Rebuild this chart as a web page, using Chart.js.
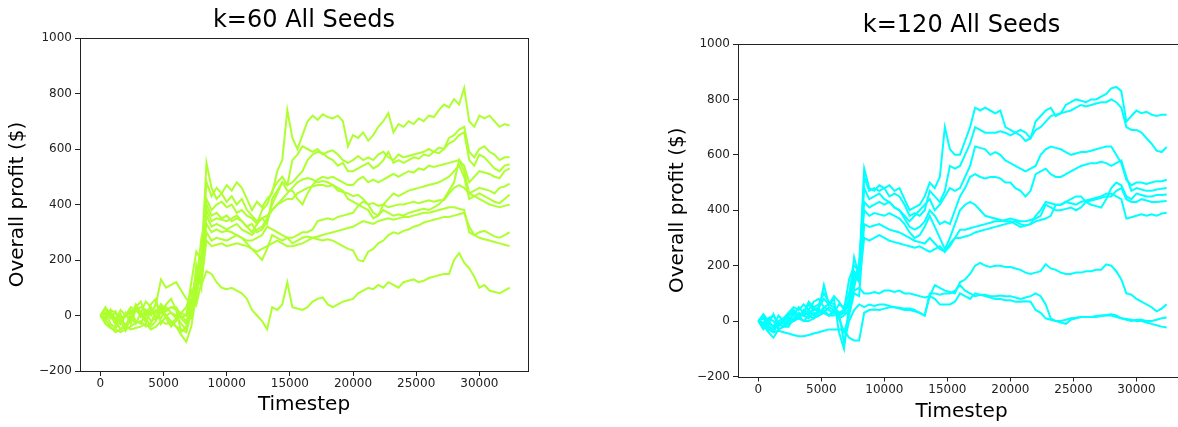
<!DOCTYPE html>
<html>
<head>
<meta charset="utf-8">
<script src="https://cdn.jsdelivr.net/npm/chart.js"></script>
<style>
  body { margin: 0; background: #fff; overflow: hidden; width: 1178px; height: 427px; }
  .wrap { position: absolute; top: 0; }
</style>
</head>
<body>
<div class="wrap" style="left:0px"><canvas id="k60" width="560" height="427"></canvas></div>
<div class="wrap" style="left:650px"><canvas id="k120" width="545" height="427"></canvas></div>
<script>
var FONT = "'DejaVu Sans', sans-serif";

// one sample every 400 timesteps, 0 .. 32400
var timesteps = [];
for (var t = 0; t <= 32400; t += 400) timesteps.push(t);

var xTicks = [0, 5000, 10000, 15000, 20000, 25000, 30000];

// k=60, one array per seed
var k60_a = [0, 25, -10, 15, -25, 10, -30, 20, 0, -20,
    25, 10, 40, 15, 30, 20, -10, -30, 60, 150,
    200, 480, 430, 460, 440, 470, 450, 480, 460, 420,
    380, 410, 390, 420, 440, 520, 560, 740, 640, 600,
    650, 700, 720, 705, 725, 715, 710, 720, 700, 610,
    650, 640, 660, 630, 650, 680, 700, 730, 660, 690,
    680, 700, 690, 710, 700, 720, 715, 740, 760, 750,
    780, 760, 820, 700, 680, 720, 710, 720, 700, 680,
    690, 685];
var k60_b = [0, -20, 20, -35, 5, -45, 10, 30, -5, 20,
    0, 45, 20, -10, -40, -20, 10, 0, 120, 230,
    200, 550, 460, 420, 440, 410, 430, 400, 420, 380,
    360, 340, 350, 330, 420, 450, 480, 470, 560, 580,
    610, 600, 590, 600, 580, 590, 595, 580, 560, 550,
    560, 575, 560, 570, 560, 580, 590, 570, 560, 580,
    570, 575, 580, 585, 590, 600, 590, 605, 600, 640,
    650, 670, 680, 590, 570, 600, 610, 590, 580, 560,
    570, 570];
var k60_c = [0, 10, -30, -45, -20, -55, -5, -30, 10, -25,
    20, -10, 10, 40, 60, 20, -60, -40, 30, 100,
    210, 420, 380, 400, 410, 390, 400, 370, 380, 360,
    350, 330, 380, 400, 450, 480, 500, 470, 480, 500,
    520, 560, 580, 590, 585, 570, 560, 540, 550, 520,
    520, 530, 540, 550, 530, 540, 560, 590, 550, 560,
    550, 560, 570, 565, 580, 575, 590, 585, 600, 620,
    630, 650, 660, 560, 540, 580, 570, 550, 530, 520,
    540, 545];
var k60_d = [0, -10, 5, -20, -50, -30, -15, 40, 10, -10,
    -40, -20, 30, 0, -20, -40, -70, -95, -40, 80,
    160, 400, 360, 370, 350, 360, 340, 350, 340, 320,
    330, 300, 310, 340, 400, 440, 480, 450, 450, 420,
    400, 440, 470, 490, 500, 495, 500, 490, 480, 470,
    470, 490, 500, 480, 490, 480, 490, 500, 510, 500,
    510, 520, 515, 530, 525, 540, 535, 540, 545, 550,
    555, 560, 540, 480, 500, 520, 515, 510, 500, 495,
    520, 530];
var k60_e = [0, 30, 0, -30, -10, 0, 20, -20, -30, 10,
    -20, -10, -10, 30, 10, 0, -30, -50, 20, 180,
    100, 380, 340, 350, 345, 340, 350, 360, 340, 320,
    300, 330, 350, 360, 380, 400, 420, 440, 460, 480,
    490, 495, 490, 480, 485, 480, 470, 450, 445, 440,
    430, 435, 420, 400, 370, 360, 380, 370, 360, 365,
    360, 370, 375, 380, 385, 380, 390, 400, 420, 450,
    480, 560, 520, 440, 450, 460, 455, 450, 440, 460,
    465, 475];
var k60_f = [0, -30, -45, -50, -60, -50, -40, -25, -20, -40,
    -30, 20, 10, 0, -30, -10, -5, 0, 60, 120,
    280, 360, 320, 330, 320, 310, 320, 330, 310, 300,
    290, 310, 320, 350, 380, 400, 410, 420, 420, 440,
    450, 460, 465, 470, 470, 465, 470, 460, 450, 420,
    410, 400, 390, 380, 350, 360, 400, 420, 440, 430,
    440, 450, 455, 460, 465, 470, 475, 480, 490, 500,
    520, 540, 500, 420, 430, 440, 430, 420, 410, 405,
    420, 435];
var k60_g = [0, 5, 20, 10, -30, 0, 30, 20, 10, 50,
    30, -10, 40, 20, 30, 30, 0, -20, -10, 60,
    200, 330, 300, 310, 300, 305, 300, 290, 280, 270,
    270, 280, 290, 320, 310, 300, 290, 280, 280, 290,
    300, 300, 310, 340, 345, 350, 345, 355, 360, 365,
    370, 395, 410, 400, 405, 395, 400, 390, 395, 400,
    400, 405, 410, 405, 410, 415, 410, 415, 415, 440,
    460, 470, 460, 440, 430, 420, 410, 400, 395, 390,
    395, 400];
var k60_h = [0, -15, -40, -60, -50, -40, -50, -45, -40, -30,
    -50, -40, -20, -30, -25, -40, -50, -60, 10, 100,
    140, 300, 270, 280, 275, 270, 280, 290, 280, 260,
    240, 220, 200, 240, 290, 280, 270, 280, 260, 270,
    280, 285, 280, 275, 270, 275, 270, 260, 250, 240,
    235, 200, 195, 230, 240, 260, 270, 290, 300, 295,
    305, 310, 320, 325, 335, 340, 345, 350, 355, 355,
    360, 365, 370, 320, 290, 300, 305, 295, 285, 280,
    290, 300];
var k60_i = [0, 25, 10, -20, 20, 0, -10, 30, 50, 0,
    40, 60, -30, 0, 10, -10, 10, 30, 90, 40,
    120, 270, 250, 255, 260, 250, 255, 260, 255, 250,
    240, 230, 240, 250, 260, 270, 260, 250, 250, 255,
    260, 270, 280, 285, 290, 295, 300, 305, 310, 315,
    320, 330, 340, 335, 330, 340, 345, 350, 345, 350,
    355, 355, 360, 365, 370, 370, 375, 380, 385, 390,
    390, 385, 380, 300, 290, 280, 275, 270, 265, 260,
    255, 250];
var k60_j = [0, -5, 10, -10, -20, 0, 10, 20, 30, 20,
    10, 40, 130, 100, 110, 120, 90, 60, 50, 150,
    110, 160, 150, 120, 100, 95, 100, 90, 80, 60,
    20, 0, -20, -50, 30, 20, 40, 120, 30, 25,
    20, 30, 50, 60, 65, 40, 30, 40, 50, 55,
    60, 80, 90, 100, 95, 110, 100, 120, 110, 100,
    120, 125, 130, 120, 125, 135, 140, 145, 150, 150,
    200, 225, 190, 170, 140, 100, 110, 90, 85, 80,
    90, 100];

// k=120, one array per seed
var k120_a = [0, 20, -10, 25, -20, 10, 30, 50, 40, 60,
    40, 70, 80, 50, 60, 90, 70, 40, 150, 200,
    180, 550, 480, 470, 490, 480, 490, 470, 480, 440,
    400, 410, 420, 450, 500, 480, 520, 700, 620, 600,
    600, 650, 700, 770, 760, 770, 760, 750, 760, 700,
    690, 680, 670, 650, 660, 720, 740, 760, 770, 740,
    750, 780, 790, 800, 795, 790, 800, 800, 810, 820,
    840, 845, 830, 720, 740, 760, 750, 755, 745, 740,
    745, 745];
var k120_b = [0, -20, 10, 20, -10, 0, 20, 40, 20, 30,
    70, 50, 60, 100, 70, 60, 20, 30, 80, 230,
    160, 520, 470, 480, 470, 480, 450, 460, 450, 420,
    380, 390, 380, 400, 470, 450, 430, 470, 560, 550,
    560, 600, 640, 700, 690, 680, 680, 680, 685, 680,
    670, 680, 690, 680, 660, 690, 700, 720, 740, 745,
    750, 755, 760, 770, 780, 775, 780, 785, 790, 790,
    800, 790, 770, 700, 690, 690, 680, 660, 640, 615,
    610, 628];
var k120_c = [0, 10, -20, -30, 0, 10, 10, 20, 50, 30,
    60, 40, 50, 80, 60, 80, -40, -100, 60, 140,
    210, 480, 440, 450, 460, 440, 430, 410, 400, 380,
    360, 380, 400, 420, 440, 400, 420, 450, 480, 470,
    480, 520, 560, 630, 625, 620, 600, 610, 600, 580,
    570, 560, 550, 540, 550, 560, 600, 620, 630, 625,
    620, 610, 600, 605, 610, 610, 615, 620, 625, 630,
    630, 600, 570, 510, 490, 500, 500, 495, 500, 505,
    505, 510];
var k120_d = [0, -30, -10, -20, -10, 0, 20, 30, 10, 40,
    20, 50, 30, 50, 40, 30, 60, 50, 100, 180,
    150, 430, 410, 420, 430, 420, 430, 410, 400, 370,
    340, 330, 340, 360, 400, 380, 350, 360, 350, 400,
    450, 480, 520, 530, 520, 515, 520, 520, 515, 500,
    500, 480, 470, 450, 470, 530, 540, 550, 530, 520,
    520, 530, 540, 550, 560, 565, 570, 570, 575, 570,
    560, 570, 580, 520, 470, 480, 475, 470, 470, 475,
    478, 480];
var k120_e = [0, 15, -30, -40, -10, -20, -20, 10, 30, 20,
    40, 20, 40, 30, 50, 40, 10, 20, 40, 120,
    200, 400, 380, 390, 385, 380, 390, 380, 370, 350,
    320, 300, 310, 340, 380, 340, 300, 260, 300, 350,
    400, 420, 430, 420, 400, 380, 375, 370, 365, 360,
    360, 350, 340, 345, 350, 380, 400, 430, 425, 420,
    420, 430, 440, 450, 450, 430, 420, 415, 410, 440,
    480, 500, 490, 450, 440, 460, 455, 450, 450, 455,
    455, 457];
var k120_f = [0, -10, 10, 0, -30, -20, 10, 0, 20, 20,
    10, 30, 20, 40, 20, 40, 10, -40, 20, 100,
    90, 350, 340, 345, 350, 340, 330, 325, 320, 310,
    300, 290, 285, 280, 300, 280, 260, 250, 270, 300,
    330, 330, 335, 340, 345, 350, 355, 360, 360, 365,
    370, 365, 360, 360, 365, 370, 380, 420, 410, 400,
    400, 405, 410, 400, 410, 430, 435, 440, 445, 450,
    450, 470, 480, 440, 430, 430, 440, 435, 430, 430,
    432, 433];
var k120_g = [0, 25, 0, -20, 20, 0, -10, 30, 20, 0,
    20, 10, 40, 30, 20, 30, 30, 40, 60, 170,
    140, 300, 290, 300, 310, 300, 290, 285, 280, 275,
    270, 265, 270, 260, 250, 260, 270, 250, 280, 300,
    300, 305, 310, 320, 325, 330, 335, 340, 345, 350,
    355, 360, 350, 345, 350, 360, 365, 370, 380, 420,
    420, 430, 425, 420, 430, 435, 440, 445, 450, 460,
    460, 450, 440, 370, 375, 380, 385, 380, 385, 380,
    388, 391];
var k120_h = [0, -5, -20, -30, -10, -10, 0, 10, 20, 20,
    30, 40, 40, 130, 60, 50, 30, 30, 60, 110,
    120, 100, 100, 105, 100, 110, 110, 105, 110, 100,
    100, 95, 90, 85, 90, 130, 120, 110, 105, 100,
    140, 150, 170, 200, 210, 200, 195, 200, 200, 195,
    195, 190, 185, 175, 170, 175, 180, 205, 190, 185,
    175, 170, 170, 175, 175, 180, 180, 185, 185, 205,
    200, 180, 150, 100, 95, 80, 70, 60, 50, 35,
    45, 61];
var k120_i = [0, -15, -40, -60, -30, -20, -10, 0, 10, 0,
    0, 10, 20, 30, 20, 20, 30, -80, 0, 40,
    60, 50, 60, 55, 60, 60, 55, 50, 45, 40,
    40, 35, 30, 20, 90, 80, 60, 60, 60, 70,
    100, 90, 80, 100, 95, 90, 85, 80, 80, 75,
    75, 70, 70, 72, 70, 40, 30, 10, 5, 0,
    0, 5, 10, 12, 15, 15, 15, 18, 20, 22,
    25, 20, 10, 8, 5, 0, 0, -5, -10, -15,
    -20, -23];
var k120_j = [0, -20, -30, -40, -35, -40, -45, -50, -55, -55,
    -50, -45, -40, -35, -30, -30, -30, -30, -60, -70,
    -70, 30, 40, 42, 40, 45, 50, 50, 48, 45,
    45, 40, 30, 20, 100, 100, 95, 100, 100, 110,
    130, 110, 100, 90, 95, 95, 90, 90, 92, 90,
    90, 85, 80, 85, 90, 100, 90, 60, 10, 0,
    -5, -10, 5, 10, 15, 15, 15, 15, 18, 20,
    20, 15, 10, 5, 0, 5, 5, 0, 0, 5,
    10, 13];

function fmt(v) {
    return String(v).replace('-', '\u2212');
}

// matplotlib-style box round the axes
var frame = {
    id: 'frame',
    afterDraw: function (chart) {
        var a = chart.chartArea, ctx = chart.ctx;
        ctx.save();
        ctx.strokeStyle = '#222';
        ctx.lineWidth = 1;
        ctx.strokeRect(Math.round(a.left) + 0.5, Math.round(a.top) + 0.5,
            Math.round(a.right - a.left), Math.round(a.bottom - a.top));
        ctx.restore();
    }
};

function makeChart(id, title, series, color, box) {
    var datasets = series.map(function (vals) {
        return {
            data: vals.map(function (v, i) { return {x: timesteps[i], y: v}; }),
            borderColor: color,
            borderWidth: 2,
            pointRadius: 0,
            fill: false,
            tension: 0
        };
    });

    new Chart(document.getElementById(id), {
        type: 'line',
        data: { datasets: datasets },
        options: {
            responsive: false,
            animation: false,
            events: [],
            layout: { padding: { left: 0, right: box.right, top: 0, bottom: 0 } },
            plugins: {
                legend: { display: false },
                tooltip: { enabled: false },
                title: {
                    display: true,
                    text: title,
                    fullSize: false,
                    color: '#000',
                    font: { family: FONT, size: 24, weight: 'normal' },
                    padding: { top: box.titleTop, bottom: box.titleBottom }
                }
            },
            scales: {
                x: {
                    type: 'linear',
                    min: -1612,
                    max: 33852,
                    afterBuildTicks: function (s) {
                        s.ticks = xTicks.map(function (v) { return {value: v}; });
                    },
                    afterFit: function (s) { s.height = box.xHeight; },
                    ticks: { font: { family: FONT, size: 12 }, color: '#222', padding: 1, maxRotation: 0, callback: fmt },
                    grid: { drawOnChartArea: false, tickLength: 5, tickColor: '#222' },
                    border: { display: false },
                    title: {
                        display: true,
                        text: 'Timestep',
                        color: '#000',
                        font: { family: FONT, size: 20 },
                        padding: { top: 0, bottom: box.xTitleBottom }
                    }
                },
                y: {
                    min: -200,
                    max: 1000,
                    afterFit: function (s) { s.width = box.yWidth; },
                    ticks: { stepSize: 200, font: { family: FONT, size: 12 }, color: '#222', padding: 3, callback: fmt },
                    grid: { drawOnChartArea: false, tickLength: 5, tickColor: '#222' },
                    border: { display: false },
                    title: {
                        display: true,
                        text: 'Overall profit ($)',
                        color: '#000',
                        font: { family: FONT, size: 20 },
                        padding: { top: box.yTitleTop, bottom: 0 }
                    }
                }
            }
        },
        plugins: [frame]
    });
}

makeChart('k60', 'k=60 All Seeds',
    [k60_a, k60_b, k60_c, k60_d, k60_e, k60_f, k60_g, k60_h, k60_i, k60_j],
    '#adff2f',
    { right: 32, titleTop: 6, titleBottom: 3.2, xHeight: 56, xTitleBottom: 10, yWidth: 80, yTitleTop: 6 });

makeChart('k120', 'k=120 All Seeds',
    [k120_a, k120_b, k120_c, k120_d, k120_e, k120_f, k120_g, k120_h, k120_i, k120_j],
    '#00ffff',
    { right: 10, titleTop: 11.6, titleBottom: 3.6, xHeight: 50.5, xTitleBottom: 3, yWidth: 88, yTitleTop: 16 });
</script>
</body>
</html>
